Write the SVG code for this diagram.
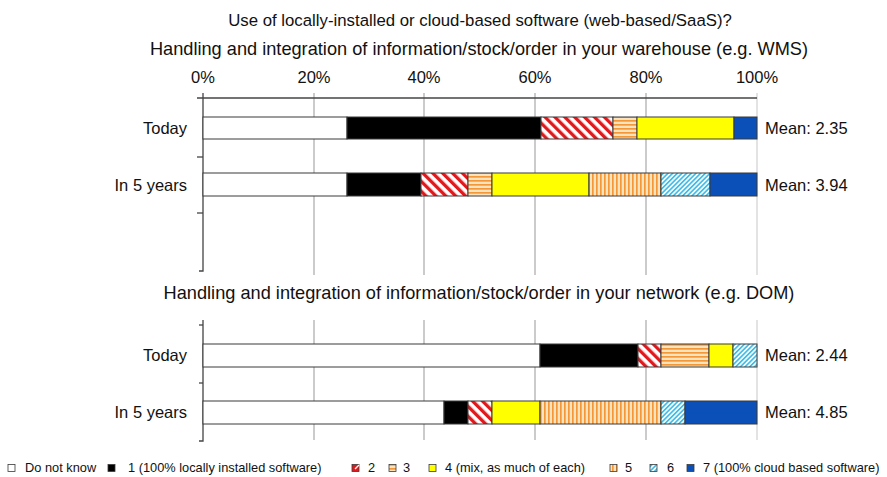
<svg xmlns="http://www.w3.org/2000/svg" width="887" height="477" viewBox="0 0 887 477">
<style>
text{font-family:"Liberation Sans",Arial,Helvetica,sans-serif;fill:#111}
.t{font-size:16.8px;text-anchor:middle}
.st{font-size:18.2px;text-anchor:middle}
.ax{font-size:16.5px;text-anchor:middle}
.yl{font-size:16.5px;text-anchor:end}
.mn{font-size:16.5px}
.lg{font-size:12.8px}
.grid{stroke:#a8a8a8;stroke-width:1.2}
.grid2{stroke:#d0d0d0;stroke-width:1.2}
.axis{stroke:#444;stroke-width:1.3;fill:none}
.seg{stroke:#3a3a3a;stroke-width:1}
.ls{stroke:#3a3a3a;stroke-width:0.8}
</style>
<defs>
<pattern id="p2" patternUnits="userSpaceOnUse" width="7" height="7" patternTransform="rotate(-45)">
<rect width="7" height="7" fill="#fff"/><rect width="3.3" height="7" fill="#e2191c"/>
</pattern>
<pattern id="p3" patternUnits="userSpaceOnUse" width="6" height="4">
<rect width="6" height="4" fill="#fde3bd"/><rect width="6" height="1.7" fill="#f39838"/>
</pattern>
<pattern id="p5" patternUnits="userSpaceOnUse" width="4" height="6">
<rect width="4" height="6" fill="#fde3bd"/><rect width="1.7" height="6" fill="#f39838"/>
</pattern>
<pattern id="p6" patternUnits="userSpaceOnUse" width="3.3" height="6" patternTransform="rotate(45)">
<rect width="3.3" height="6" fill="#fff"/><rect width="1.7" height="6" fill="#42bde8"/>
</pattern>
</defs>

<g id="titles">
<text class="t" x="480" y="26">Use of locally-installed or cloud-based software (web-based/SaaS)?</text>
<text class="st" x="479" y="55">Handling and integration of information/stock/order in your warehouse (e.g. WMS)</text>
<text class="st" x="479" y="299">Handling and integration of information/stock/order in your network (e.g. DOM)</text>
</g>

<g id="x-axis-labels">
<text class="ax" x="203" y="83">0%</text>
<text class="ax" x="314" y="83">20%</text>
<text class="ax" x="424" y="83">40%</text>
<text class="ax" x="535" y="83">60%</text>
<text class="ax" x="646" y="83">80%</text>
<text class="ax" x="757" y="83">100%</text>
</g>

<g id="chart1-grid">
<line class="grid" x1="314" y1="93" x2="314" y2="275"/>
<line class="grid" x1="424" y1="93" x2="424" y2="275"/>
<line class="grid" x1="535" y1="93" x2="535" y2="275"/>
<line class="grid" x1="646" y1="93" x2="646" y2="275"/>
<line class="grid2" x1="757" y1="93" x2="757" y2="275"/>
<line class="axis" x1="197" y1="98" x2="757" y2="98"/>
<path class="axis" d="M203 93 V271 H199"/>
<line class="axis" x1="197" y1="157" x2="203" y2="157"/>
<line class="axis" x1="197" y1="213" x2="203" y2="213"/>
</g>

<g id="chart1-today">
<rect class="seg" x="203" y="117" width="144" height="22" fill="#fff"/>
<rect class="seg" x="347" y="117" width="194" height="22" fill="#000"/>
<rect class="seg" x="541" y="117" width="72" height="22" fill="url(#p2)"/>
<rect class="seg" x="613" y="117" width="24" height="22" fill="url(#p3)"/>
<rect class="seg" x="637" y="117" width="97" height="22" fill="#ffff00"/>
<rect class="seg" x="734" y="117" width="23" height="22" fill="#0a50b8"/>
<text class="yl" x="187" y="134">Today</text>
<text class="mn" x="765" y="134">Mean: 2.35</text>
</g>

<g id="chart1-5years">
<rect class="seg" x="203" y="173" width="144" height="23" fill="#fff"/>
<rect class="seg" x="347" y="173" width="74" height="23" fill="#000"/>
<rect class="seg" x="421" y="173" width="47" height="23" fill="url(#p2)"/>
<rect class="seg" x="468" y="173" width="24" height="23" fill="url(#p3)"/>
<rect class="seg" x="492" y="173" width="97" height="23" fill="#ffff00"/>
<rect class="seg" x="589" y="173" width="72" height="23" fill="url(#p5)"/>
<rect class="seg" x="661" y="173" width="49" height="23" fill="url(#p6)"/>
<rect class="seg" x="710" y="173" width="47" height="23" fill="#0a50b8"/>
<text class="yl" x="187" y="191">In 5 years</text>
<text class="mn" x="765" y="191">Mean: 3.94</text>
</g>

<g id="chart2-grid">
<line class="grid" x1="314" y1="320" x2="314" y2="440"/>
<line class="grid" x1="424" y1="320" x2="424" y2="440"/>
<line class="grid" x1="535" y1="320" x2="535" y2="440"/>
<line class="grid" x1="646" y1="320" x2="646" y2="440"/>
<line class="grid2" x1="757" y1="320" x2="757" y2="440"/>
<path class="axis" d="M203 320 V441 H199"/>
<line class="axis" x1="199" y1="325" x2="203" y2="325"/>
<line class="axis" x1="199" y1="383" x2="203" y2="383"/>
</g>

<g id="chart2-today">
<rect class="seg" x="203" y="344" width="337" height="23" fill="#fff"/>
<rect class="seg" x="540" y="344" width="98" height="23" fill="#000"/>
<rect class="seg" x="638" y="344" width="23" height="23" fill="url(#p2)"/>
<rect class="seg" x="661" y="344" width="48" height="23" fill="url(#p3)"/>
<rect class="seg" x="709" y="344" width="24" height="23" fill="#ffff00"/>
<rect class="seg" x="733" y="344" width="24" height="23" fill="url(#p6)"/>
<text class="yl" x="187" y="361">Today</text>
<text class="mn" x="765" y="361">Mean: 2.44</text>
</g>

<g id="chart2-5years">
<rect class="seg" x="203" y="401" width="241" height="23" fill="#fff"/>
<rect class="seg" x="444" y="401" width="24" height="23" fill="#000"/>
<rect class="seg" x="468" y="401" width="24" height="23" fill="url(#p2)"/>
<rect class="seg" x="492" y="401" width="48" height="23" fill="#ffff00"/>
<rect class="seg" x="540" y="401" width="121" height="23" fill="url(#p5)"/>
<rect class="seg" x="661" y="401" width="24" height="23" fill="url(#p6)"/>
<rect class="seg" x="685" y="401" width="72" height="23" fill="#0a50b8"/>
<text class="yl" x="187" y="418">In 5 years</text>
<text class="mn" x="765" y="418">Mean: 4.85</text>
</g>

<g id="legend">
<rect class="ls" x="8" y="464.5" width="7" height="7" fill="#fff"/>
<text class="lg" x="25" y="472">Do not know</text>
<rect class="ls" x="108" y="464.5" width="7" height="7" fill="#000"/>
<text class="lg" x="128" y="472">1 (100% locally installed software)</text>
<rect class="ls" x="352" y="464.5" width="7" height="7" fill="#e2191c"/>
<path d="M355 469 L359 465" stroke="#fff" stroke-width="1.2"/>
<text class="lg" x="368" y="472">2</text>
<rect class="ls" x="389" y="464.5" width="7" height="7" fill="url(#p3)"/>
<text class="lg" x="403" y="472">3</text>
<rect class="ls" x="429" y="464.5" width="7" height="7" fill="#ffff00"/>
<text class="lg" x="445" y="472">4 (mix, as much of each)</text>
<rect class="ls" x="610" y="464.5" width="7" height="7" fill="url(#p5)"/>
<text class="lg" x="625" y="472">5</text>
<rect class="ls" x="650" y="464.5" width="7" height="7" fill="url(#p6)"/>
<text class="lg" x="667" y="472">6</text>
<rect class="ls" x="687" y="464.5" width="7" height="7" fill="#0a50b8"/>
<text class="lg" x="703" y="472">7 (100% cloud based software)</text>
</g>
</svg>
